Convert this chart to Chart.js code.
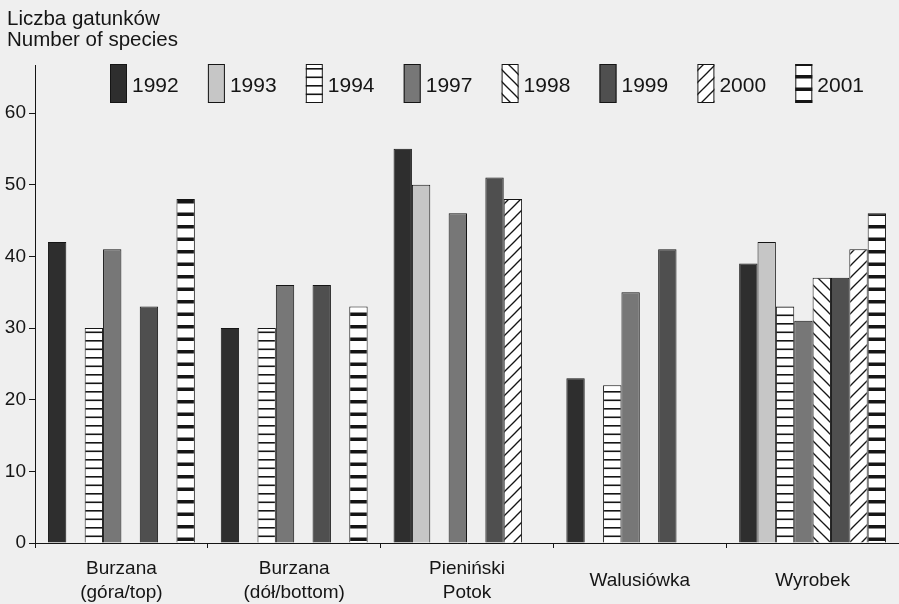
<!DOCTYPE html>
<html>
<head>
<meta charset="utf-8">
<script src="https://cdn.jsdelivr.net/npm/chart.js@4/dist/chart.umd.min.js"></script>
<style>
  html, body { margin: 0; padding: 0; background: #efefef; }
  #wrap { width: 899px; height: 604px; }
  canvas { display: block; }
</style>
</head>
<body>
<div id="wrap"><canvas id="c" width="899" height="604"></canvas></div>
<script>
// Sampling sites (x categories) and survey years (series)
const sites = [['Burzana', '(góra/top)'], ['Burzana', '(dół/bottom)'], ['Pieniński', 'Potok'], ['Walusiówka'], ['Wyrobek']];
const years = ['1992', '1993', '1994', '1997', '1998', '1999', '2000', '2001'];

// Number of species per site, one array per year (null = not surveyed)
const n1992 = [42, 30, 55, 23, 39];
const n1993 = [null, null, 50, null, 42];
const n1994 = [30, 30, null, 22, 33];
const n1997 = [41, 36, 46, 35, 31];
const n1998 = [null, null, null, null, 37];
const n1999 = [33, 36, 51, 41, 37];
const n2000 = [null, null, 48, null, 41];
const n2001 = [48, 33, null, null, 46];

const yTicks = [0, 10, 20, 30, 40, 50, 60];
const axisCaption = ['Liczba gatunków', 'Number of species'];

const FONT = '"Liberation Sans", Arial, Helvetica, sans-serif';
const INK = '#151515';
Chart.defaults.font.family = FONT;
Chart.defaults.color = INK;

const canvas = document.getElementById('c');
const ctx = canvas.getContext('2d');

// Hatch fills
function hatch(w, h, paint) {
  const t = document.createElement('canvas');
  t.width = w; t.height = h;
  const g = t.getContext('2d');
  g.fillStyle = '#ffffff';
  g.fillRect(0, 0, w, h);
  g.fillStyle = INK;
  g.strokeStyle = INK;
  paint(g, w, h);
  return ctx.createPattern(t, 'repeat');
}
const thinRows = hatch(8, 17, (g, w) => {
  g.fillRect(0, 0, w, 1.6);
  g.fillRect(0, 8.5, w, 1.6);
});
const thickRows = hatch(8, 25, (g, w) => {
  g.fillRect(0, 0, w, 3.5);
  g.fillRect(0, 12.5, w, 3.5);
});
const backSlash = hatch(12, 12, (g, w, h) => {
  g.lineWidth = 1.3;
  for (let k = -1; k <= 1; k++) {
    g.beginPath(); g.moveTo(-2, -2 + k * h); g.lineTo(w + 2, h + 2 + k * h); g.stroke();
  }
});
const fwdSlash = hatch(12, 12, (g, w, h) => {
  g.lineWidth = 1.3;
  for (let k = -1; k <= 1; k++) {
    g.beginPath(); g.moveTo(-2, h + 2 + k * h); g.lineTo(w + 2, -2 + k * h); g.stroke();
  }
});

const series = [n1992, n1993, n1994, n1997, n1998, n1999, n2000, n2001];
const fills = ['#2e2e2e', '#c6c6c6', thinRows, '#777777', backSlash, '#4f4f4f', fwdSlash, thickRows];

const datasets = years.map((yr, i) => ({
  label: yr,
  data: series[i],
  backgroundColor: fills[i],
  borderColor: INK,
  borderWidth: 1,
  borderSkipped: 'bottom',
  categoryPercentage: 0.85,
  barPercentage: 1
}));

// Year key and axis caption, drawn on top of the plot
const yearKey = {
  id: 'yearKey',
  afterDraw(chart) {
    const c = chart.ctx;
    c.save();
    chart.data.datasets.forEach((ds, i) => {
      const x = 110 + i * 97.9, y = 64;
      c.fillStyle = ds.backgroundColor;
      c.fillRect(x, y, 17, 39);
      c.strokeStyle = INK;
      c.lineWidth = 1;
      c.strokeRect(x + 0.5, y + 0.5, 16, 38);
      c.fillStyle = INK;
      c.font = '21px ' + FONT;
      c.textBaseline = 'middle';
      c.textAlign = 'left';
      c.fillText(ds.label, x + 22, y + 22);
    });
    c.font = '20.5px ' + FONT;
    c.textBaseline = 'alphabetic';
    c.fillStyle = INK;
    c.fillText(axisCaption[0], 7, 25);
    c.fillText(axisCaption[1], 7, 46);
    c.restore();
  }
};

new Chart(ctx, {
  type: 'bar',
  data: { labels: sites, datasets },
  options: {
    responsive: false,
    animation: false,
    layout: { padding: { top: 65, right: 0, bottom: 0, left: 0 } },
    plugins: { legend: { display: false }, tooltip: { enabled: false }, title: { display: false } },
    scales: {
      x: {
        afterFit(s) { s.height = 61; },
        grid: { offset: true, drawOnChartArea: false, tickLength: 5, color: INK },
        border: { color: INK, width: 1 },
        ticks: {
          color: INK,
          font: { size: 19, lineHeight: 1.24 },
          padding: 21,
          crossAlign: 'center',
          maxRotation: 0,
          autoSkip: false
        }
      },
      y: {
        min: 0,
        max: 66.7,
        afterFit(s) { s.width = 35; },
        afterBuildTicks(s) { s.ticks = yTicks.map(v => ({ value: v })); },
        grid: { drawOnChartArea: false, tickLength: 6, color: INK },
        border: { color: INK, width: 1 },
        ticks: { color: INK, font: { size: 19 }, padding: 3 }
      }
    }
  },
  plugins: [yearKey]
});
</script>
</body>
</html>
